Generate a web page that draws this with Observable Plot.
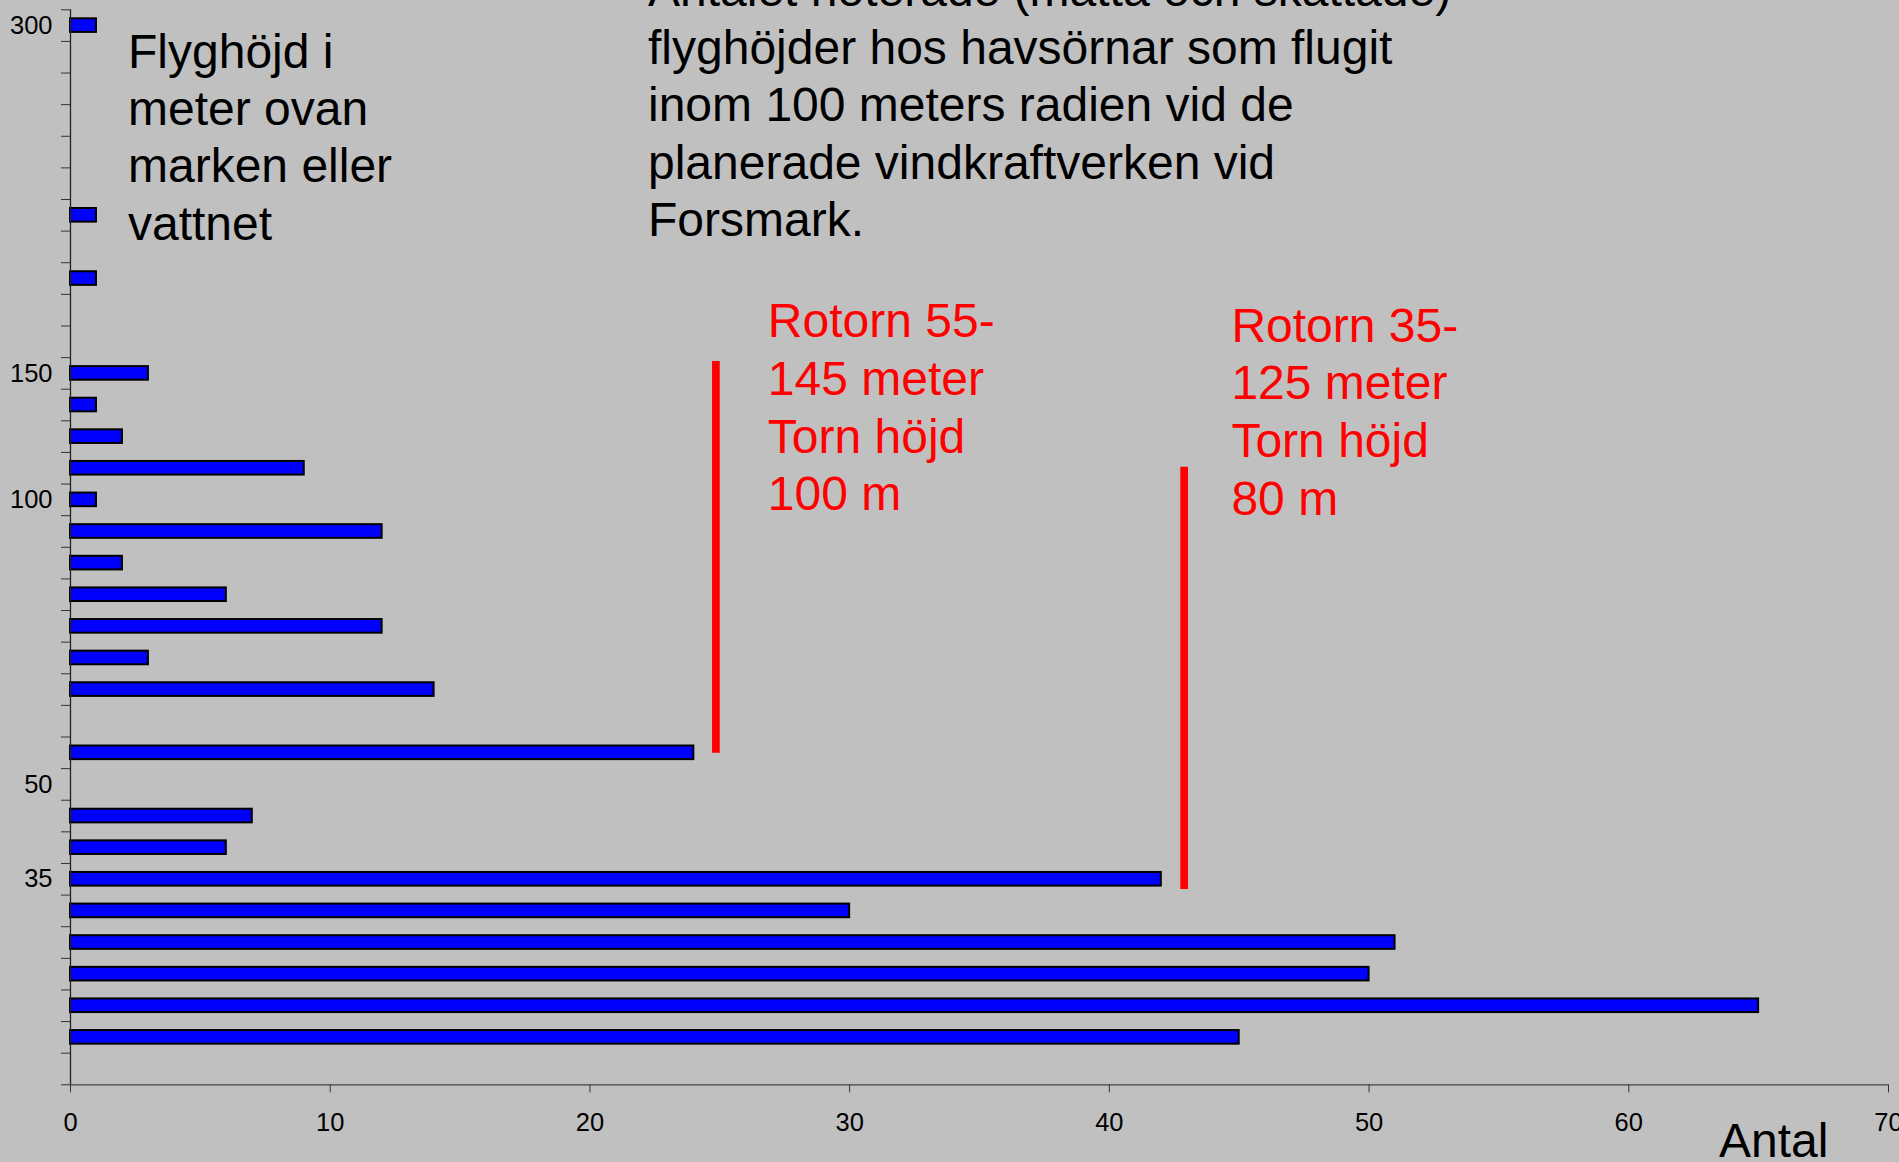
<!DOCTYPE html>
<html>
<head>
<meta charset="utf-8">
<script src="https://cdn.jsdelivr.net/npm/d3@7"></script>
<script src="https://cdn.jsdelivr.net/npm/@observablehq/plot@0.6"></script>
<style>
  html, body { margin: 0; padding: 0; background: #c0c0c0; overflow: hidden; }
  #wrap { position: relative; width: 1899px; height: 1162px; overflow: hidden; background: #c0c0c0;
          font-family: "Liberation Sans", Arial, sans-serif; }
  #wrap svg { position: absolute; left: 0; top: 0; }
  .note { position: absolute; font-size: 48px; line-height: 57.6px; color: #000; white-space: nowrap; }
</style>
</head>
<body>
<div id="wrap">
  <div class="note" id="titleRight" style="left:648px; top:-39px;"></div>
  <div class="note" id="titleLeft" style="left:128px; top:23px; line-height:57.2px;"></div>
  <div class="note" id="xLabel" style="left:1719px; top:1111.6px;"></div>
</div>
<script>
// ---- data ----
// categories from top (highest flight altitude) to bottom; only some carry a label
const heightLabels = ["300","","","","","","","","","","","150","","","","100","","","","","","","","","50","","","35","","","","","",""];
const counts       = [1,0,0,0,0,0,1,0,1,0,0,3,1,2,9,1,12,2,6,12,3,14,0,24,0,7,6,42,30,51,50,65,45,0];
const xTicks = [0, 10, 20, 30, 40, 50, 60, 70];

// red rotor-range annotations (x in count units, y in category positions)
const rotorX      = [24.85, 42.88];
const rotorTop    = [11.12, 14.47];
const rotorBottom = [23.51, 27.82];
const rotorTexts  = ["Rotorn 55-\n145 meter\nTorn höjd\n100 m", "Rotorn 35-\n125 meter\nTorn höjd\n80 m"];
const rotorTextX  = [26.85, 44.7];
const rotorTextY  = [9.07, 9.21];

const titleLines = ["Antalet noterade (mätta och skattade)", "flyghöjder hos havsörnar som flugit", "inom 100 meters radien vid de", "planerade vindkraftverken vid", "Forsmark."];
const yTitleLines = ["Flyghöjd i", "meter ovan", "marken eller", "vattnet"];
const xTitle = "Antal";

// ---- build ----
const n = heightLabels.length;
const bars = counts.map((c, i) => ({pos: i, count: c})).filter(d => d.count > 0);
const labeled = heightLabels.map((l, i) => ({pos: i + 0.5, label: l})).filter(d => d.label !== "");
const labelAt = new Map(labeled.map(d => [d.pos, d.label]));
const rotorLines = rotorX.map((x, i) => ({x, y1: rotorTop[i], y2: rotorBottom[i]}));
const rotorNotes = rotorTexts.map((t, i) => ({x: rotorTextX[i], y: rotorTextY[i], text: t}));

const chart = Plot.plot({
  width: 1899,
  height: 1162,
  marginLeft: 70,
  marginRight: 11,
  marginTop: 9.3,
  marginBottom: 77.7,
  style: {background: "transparent", fontFamily: "'Liberation Sans', Arial, sans-serif", overflow: "visible"},
  x: {domain: [xTicks[0], xTicks[xTicks.length - 1]], label: null},
  y: {domain: [0, n], reverse: true, label: null},
  marks: [
    Plot.rectX(bars, {x: "count", y: "pos", interval: 1, insetTop: 9, insetBottom: 9,
                      fill: "#0000ff", stroke: "#000000", strokeWidth: 2}),
    Plot.ruleX(rotorLines, {x: "x", y1: "y1", y2: "y2", stroke: "#ff0000", strokeWidth: 7.7}),
    Plot.text(rotorNotes, {x: "x", y: "y", text: "text", textAnchor: "start", lineAnchor: "top",
                           lineHeight: 1.2, fontSize: 48, fill: "#ff0000"}),
    Plot.ruleX([0], {stroke: "#222222", strokeWidth: 1.3}),
    Plot.ruleY([n], {stroke: "#444444", strokeWidth: 1.3}),
    Plot.axisY({ticks: d3.range(0, n + 1), tickSize: 9, tickFormat: () => "", stroke: "#333333", label: null}),
    Plot.axisY({ticks: labeled.map(d => d.pos), tickSize: 0, tickPadding: 18,
                tickFormat: d => labelAt.get(d), fontSize: 25.5, fill: "#000", label: null}),
    Plot.axisX({ticks: xTicks, tickSize: 8, tickPadding: 20, fontSize: 25.5, stroke: "#333333", label: null})
  ]
});
document.getElementById("wrap").appendChild(chart);
document.getElementById("titleRight").innerHTML = titleLines.join("<br>");
document.getElementById("titleLeft").innerHTML = yTitleLines.join("<br>");
document.getElementById("xLabel").textContent = xTitle;
</script>
</body>
</html>
